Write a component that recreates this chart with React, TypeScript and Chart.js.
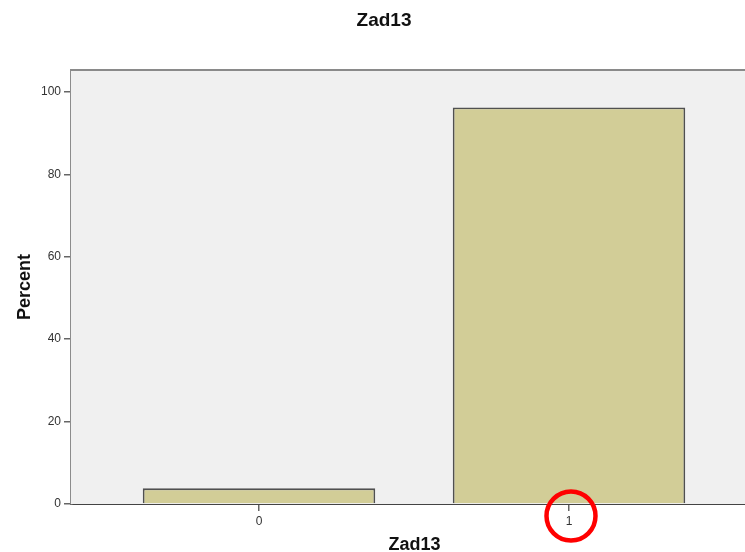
import React, { useEffect, useRef } from "react";
import { Chart, registerables } from "chart.js";

Chart.register(...registerables);

const chartTitle = "Zad13";
const xAxisTitle = "Zad13";
const yAxisTitle = "Percent";
const categories = ["0", "1"];
const percentValues = [3.8, 96.2];
const yTicks = [0, 20, 40, 60, 80, 100];
const highlightedCategory = "1";

const FONT = "'Liberation Sans', Arial, sans-serif";

export default function App() {
  const ref = useRef<HTMLCanvasElement | null>(null);

  useEffect(() => {
    if (!ref.current) return;

    const frame = {
      id: "frame",
      beforeDatasetsDraw(chart: any) {
        const { ctx, chartArea } = chart;
        ctx.save();
        ctx.fillStyle = "#f0f0f0";
        ctx.fillRect(chartArea.left, chartArea.top, chartArea.right - chartArea.left, chartArea.bottom - chartArea.top);
        ctx.strokeStyle = "#8a8a8a";
        ctx.lineWidth = 2;
        ctx.beginPath();
        ctx.moveTo(chartArea.left, chartArea.top);
        ctx.lineTo(chartArea.right, chartArea.top);
        ctx.stroke();
        ctx.restore();
      },
      afterDraw(chart: any) {
        const { ctx, chartArea } = chart;
        const xs = chart.scales.x;
        const cx = xs.getPixelForValue(Number(highlightedCategory)) + 2;
        const cy = chartArea.bottom + 12;
        ctx.save();
        ctx.strokeStyle = "#ff0000";
        ctx.lineWidth = 4.5;
        ctx.beginPath();
        ctx.arc(cx, cy, 24.5, 0, Math.PI * 2);
        ctx.stroke();
        ctx.restore();
      },
    };

    const chart = new Chart(ref.current, {
      type: "bar",
      data: {
        datasets: [
          {
            data: categories.map((c, i) => ({ x: Number(c), y: percentValues[i] })) as any,
            backgroundColor: "#d2cd97",
            borderColor: "#505050",
            borderWidth: 1.8,
            categoryPercentage: 1,
            barPercentage: 0.75,
            xAxisID: "x",
            yAxisID: "y",
          },
        ],
      },
      options: {
        animation: false,
        responsive: false,
        devicePixelRatio: 1,
        layout: { padding: { left: 0, right: 37, top: 0, bottom: 0 } },
        plugins: {
          legend: { display: false },
          tooltip: { enabled: false },
          title: {
            display: true,
            text: chartTitle,
            color: "#111",
            font: { family: FONT, size: 19, weight: "bold", lineHeight: 1.2 },
            padding: { top: 9.1, bottom: 38.1 },
          },
        },
        scales: {
          x: {
            type: "linear",
            offset: false,
            min: -0.6065,
            max: 1.6097,
            afterBuildTicks(scale: any) {
              scale.ticks = categories.map((c) => ({ value: Number(c) }));
            },
            afterFit(scale: any) {
              scale.height = 48;
            },
            ticks: {
              color: "#333",
              font: { family: FONT, size: 12 },
              padding: 3,
              maxRotation: 0,
              callback: (v: any) => String(v),
            },
            grid: {
              offset: false,
              drawOnChartArea: false,
              drawTicks: true,
              tickLength: 7,
              color: "#666",
              lineWidth: 1.5,
            },
            border: { display: true, color: "#444", width: 2 },
            title: {
              display: true,
              text: xAxisTitle,
              color: "#111",
              font: { family: FONT, size: 18, weight: "bold", lineHeight: 0.75 },
              padding: { top: 0, bottom: 0 },
            },
          },
          y: {
            type: "linear",
            position: "left",
            min: 0,
            max: 105.3,
            afterBuildTicks(scale: any) {
              scale.ticks = yTicks.map((v) => ({ value: v }));
            },
            afterFit(scale: any) {
              scale.width = 71;
            },
            ticks: {
              color: "#333",
              font: { family: FONT, size: 12 },
              padding: 3,
            },
            grid: {
              drawOnChartArea: false,
              drawTicks: true,
              tickLength: 7,
              color: "#666",
              lineWidth: 1.5,
            },
            border: { display: true, color: "#8c8c8c", width: 2.5 },
            title: {
              display: true,
              text: yAxisTitle,
              color: "#111",
              font: { family: FONT, size: 18, weight: "bold", lineHeight: 1 },
              padding: { top: 16, bottom: 0 },
            },
          },
          spacer: {
            type: "linear",
            position: "right",
            display: true,
            min: 0,
            max: 1,
            afterFit(scale: any) {
              scale.width = 10;
            },
            ticks: { display: false },
            grid: { display: false, drawTicks: false },
            border: { display: false },
          },
        },
      },
      plugins: [frame],
    } as any);

    return () => chart.destroy();
  }, []);

  return (
    <div style={{ position: "absolute", left: 0, top: 0, width: 745, height: 552, overflow: "hidden", background: "#fff" }}>
      <canvas ref={ref} width={805} height={552} style={{ width: 805, height: 552, display: "block" }} />
    </div>
  );
}
